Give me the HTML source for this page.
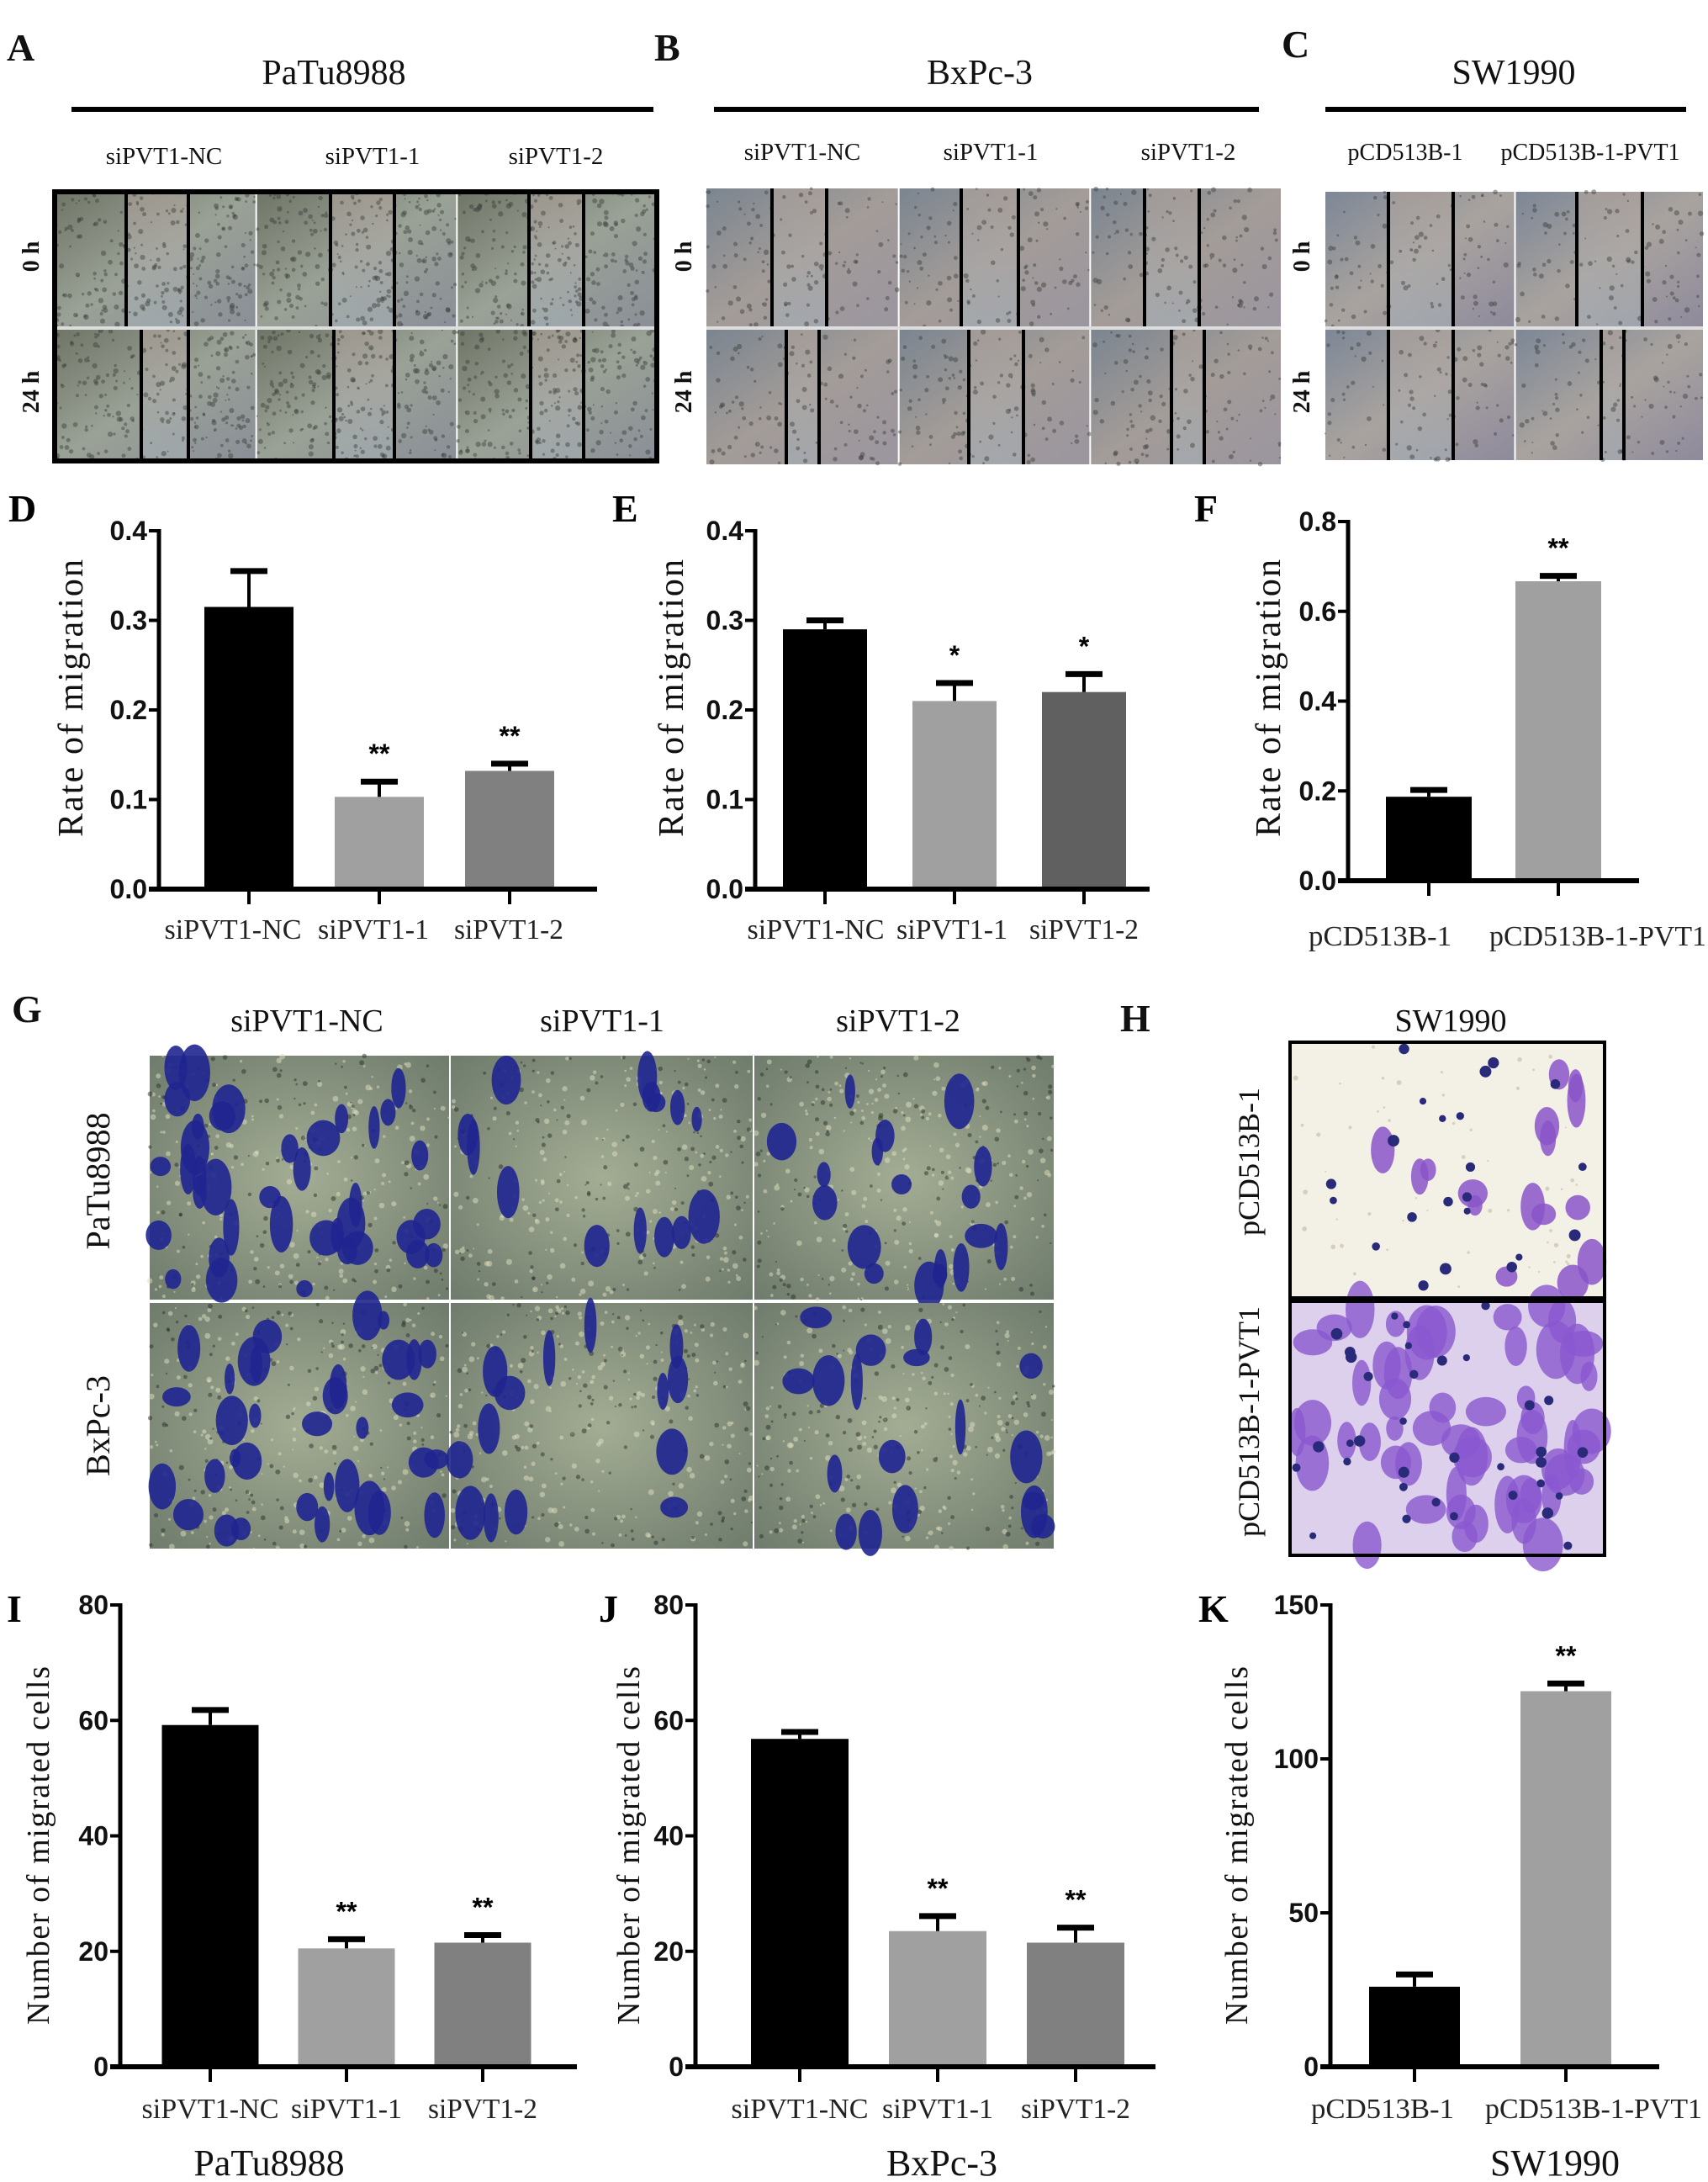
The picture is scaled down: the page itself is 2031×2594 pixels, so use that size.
<!DOCTYPE html>
<html><head><meta charset="utf-8">
<style>
html,body{margin:0;padding:0;background:#fff;}
svg{display:block;}
.serif{font-family:"Liberation Serif",serif;}
.sans{font-family:"Liberation Sans",sans-serif;}
</style></head>
<body>
<svg id="fig" width="2031" height="2594" viewBox="0 0 2031 2594" xmlns="http://www.w3.org/2000/svg">
<defs>
<linearGradient id="scrA" x1="0" y1="0" x2="1" y2="1">
<stop offset="0" stop-color="#6f7566"/><stop offset="0.5" stop-color="#9aa196"/><stop offset="1" stop-color="#8a8f98"/></linearGradient>
<linearGradient id="scrB" x1="0" y1="0" x2="1" y2="1">
<stop offset="0" stop-color="#7b8590"/><stop offset="0.5" stop-color="#a39c98"/><stop offset="1" stop-color="#9b95a0"/></linearGradient>
<linearGradient id="scrC" x1="0" y1="0" x2="1" y2="1">
<stop offset="0" stop-color="#7d8796"/><stop offset="0.5" stop-color="#a9a39f"/><stop offset="1" stop-color="#8e8a9c"/></linearGradient>
<linearGradient id="gapG" x1="0" y1="0" x2="0" y2="1">
<stop offset="0" stop-color="#b3a49c"/><stop offset="1" stop-color="#a7b3ba"/></linearGradient>
<radialGradient id="trG" cx="0.5" cy="0.5" r="0.7">
<stop offset="0" stop-color="#a3ad94"/><stop offset="1" stop-color="#6f7b6c"/></radialGradient>
</defs>
<g id="panels" class="serif"></g>
<g id="charts"></g>
</svg>
<script>
// ---------- chart data ----------
const catsSi = ["siPVT1-NC","siPVT1-1","siPVT1-2"];
const catsPc = ["pCD513B-1","pCD513B-1-PVT1"];
const dValues = [0.315,0.103,0.132];
const dErrors = [0.040,0.017,0.008];
const dStars = ["","**","**"];
const eValues = [0.290,0.210,0.220];
const eErrors = [0.010,0.020,0.020];
const eStars = ["","*","*"];
const fValues = [0.187,0.667];
const fErrors = [0.015,0.012];
const fStars = ["","**"];
const iValues = [59.2,20.5,21.5];
const iErrors = [2.6,1.6,1.3];
const iStars = ["","**","**"];
const jValues = [56.8,23.5,21.5];
const jErrors = [1.2,2.6,2.6];
const jStars = ["","**","**"];
const kValues = [26,122];
const kErrors = [4,2.5];
const kStars = ["","**"];
const ticksRate = [0,0.1,0.2,0.3,0.4];
const tickLabelsRate = ["0.0","0.1","0.2","0.3","0.4"];
const ticksRateF = [0,0.2,0.4,0.6,0.8];
const tickLabelsRateF = ["0.0","0.2","0.4","0.6","0.8"];
const ticksCells = [0,20,40,60,80];
const tickLabelsCells = ["0","20","40","60","80"];
const ticksCellsK = [0,50,100,150];
const tickLabelsCellsK = ["0","50","100","150"];

const NS="http://www.w3.org/2000/svg";
function mk(tag,attrs,parent){const e=document.createElementNS(NS,tag);for(const k in attrs)e.setAttribute(k,attrs[k]);parent.appendChild(e);return e;}
const charts=document.getElementById('charts');

function drawChart(c){
  const g=mk('g',{},charts);
  
  
  const yS=v=>c.y0-(v/c.max)*(c.y0-c.yTop);
  const xS=i=>c.first+i*c.step;
  c.values.forEach((v,i)=>{
    const r=mk('rect',{x:xS(i)-c.bw/2,y:yS(v),width:c.bw,height:c.y0-yS(v),fill:c.colors[i]},g);
    
    
    const top=yS(v+c.errs[i]);
    const eb=mk('g',{},g);
    
    
    mk('line',{x1:xS(i),x2:xS(i),y1:yS(v),y2:top,stroke:'#000','stroke-width':4},eb);
    mk('line',{x1:xS(i)-22,x2:xS(i)+22,y1:top,y2:top,stroke:'#000','stroke-width':7},eb);
    if(c.stars[i]){
      const t=mk('text',{x:xS(i),y:top-22,'text-anchor':'middle','font-size':32,'font-weight':'bold',class:'sans',fill:'#000'},g);
      t.textContent=c.stars[i];
      
      
    }
    const lx=xS(i)+(c.labelOff?c.labelOff[i]:0);
    const la={x:lx,y:c.labelY,'text-anchor':'middle','font-size':34,class:'serif',fill:'#222'};
    if(c.labelLen){la.textLength=c.labelLen[i];la.lengthAdjust='spacingAndGlyphs';}
    const lt=mk('text',la,g);
    lt.textContent=c.cats[i];
    
    
    mk('line',{x1:xS(i),x2:xS(i),y1:c.y0,y2:c.y0+18,stroke:'#000','stroke-width':4},g);
  });
  const ya=mk('line',{x1:c.ax,x2:c.ax,y1:c.yTop-2,y2:c.y0,stroke:'#000','stroke-width':5},g);
  
  
  const xa=mk('line',{x1:c.ax-12,x2:c.axEnd,y1:c.y0,y2:c.y0,stroke:'#000','stroke-width':6},g);
  
  
  c.ticks.forEach((tv,i)=>{
    mk('line',{x1:c.ax-12,x2:c.ax,y1:yS(tv),y2:yS(tv),stroke:'#000','stroke-width':4},g);
    const t=mk('text',{x:c.ax-14,y:yS(tv)+11,'text-anchor':'end','font-size':32,'font-weight':'bold',class:'sans',fill:'#111'},g);
    t.textContent=c.tickLabels[i];
    
    
  });
  const yt=mk('text',{x:0,y:0,'text-anchor':'middle','font-size':c.titleSize,class:'serif',fill:'#111',transform:`translate(${c.titleX},${c.titleY}) rotate(-90)`,textLength:c.titleLen,lengthAdjust:'spacing'},g);
  yt.textContent=c.title;
  
  
  if(c.sub){
    const st=mk('text',{x:c.subX,y:c.subY,'text-anchor':'middle','font-size':44,class:'serif',fill:'#111'},g);
    st.textContent=c.sub;
    
    
  }
  const lt=mk('text',{x:c.letterX,y:c.letterY,'font-size':46,'font-weight':'bold',class:'serif',fill:'#000'},g);
  lt.textContent=c.letter;
  
  
}
const gray1='#a0a0a0';
const siLen=[163,132,130], pcLen=[170,258];
drawChart({id:'d',letter:'D',letterX:10,letterY:620,ax:189,axEnd:710,y0:1057,yTop:631,max:0.4,first:296,step:155,bw:106,values:dValues,errs:dErrors,stars:dStars,cats:catsSi,colors:['#000',gray1,'#808080'],ticks:ticksRate,tickLabels:tickLabelsRate,labelY:1116,labelOff:[-19,-7,-1],labelLen:siLen,title:'Rate of migration',titleX:98,titleY:830,titleLen:330,titleSize:42});
drawChart({id:'e',letter:'E',letterX:728,letterY:620,ax:898,axEnd:1367,y0:1057,yTop:631,max:0.4,first:981,step:154,bw:100,values:eValues,errs:eErrors,stars:eStars,cats:catsSi,colors:['#000',gray1,'#606060'],ticks:ticksRate,tickLabels:tickLabelsRate,labelY:1116,labelOff:[-11,-3,0],labelLen:siLen,title:'Rate of migration',titleX:812,titleY:830,titleLen:330,titleSize:42});
drawChart({id:'f',letter:'F',letterX:1420,letterY:620,ax:1603,axEnd:1949,y0:1047,yTop:620,max:0.8,first:1699,step:154,bw:102,values:fValues,errs:fErrors,stars:fStars,cats:catsPc,colors:['#000',gray1],ticks:ticksRateF,tickLabels:tickLabelsRateF,labelY:1124,labelOff:[-58,47],labelLen:pcLen,title:'Rate of migration',titleX:1522,titleY:830,titleLen:330,titleSize:42});
drawChart({id:'i',letter:'I',letterX:8,letterY:1928,ax:143,axEnd:686,y0:2457,yTop:1908,max:80,first:250,step:162,bw:115,values:iValues,errs:iErrors,stars:iStars,cats:catsSi,colors:['#000',gray1,'#808080'],ticks:ticksCells,tickLabels:tickLabelsCells,labelY:2518,labelLen:siLen,title:'Number of migrated cells',titleX:58,titleY:2194,titleLen:426,titleSize:38,sub:'PaTu8988',subX:320,subY:2586});
drawChart({id:'j',letter:'J',letterX:712,letterY:1928,ax:827,axEnd:1374,y0:2457,yTop:1908,max:80,first:951,step:164,bw:116,values:jValues,errs:jErrors,stars:jStars,cats:catsSi,colors:['#000',gray1,'#808080'],ticks:ticksCells,tickLabels:tickLabelsCells,labelY:2518,labelLen:siLen,title:'Number of migrated cells',titleX:760,titleY:2194,titleLen:426,titleSize:38,sub:'BxPc-3',subX:1120,subY:2586});
drawChart({id:'k',letter:'K',letterX:1425,letterY:1928,ax:1582,axEnd:1973,y0:2457,yTop:1908,max:150,first:1682,step:180,bw:108,values:kValues,errs:kErrors,stars:kStars,cats:catsPc,colors:['#000',gray1],ticks:ticksCellsK,tickLabels:tickLabelsCellsK,labelY:2518,labelOff:[-38,33],labelLen:pcLen,title:'Number of migrated cells',titleX:1483,titleY:2194,titleLen:426,titleSize:38,sub:'SW1990',subX:1849,subY:2586});

// ---------- micrograph panels (decorative) ----------
const P=document.getElementById('panels');
function txt(x,y,s,size,name,opts){const t=mk('text',Object.assign({x:x,y:y,'font-size':size,'text-anchor':'middle',fill:'#111'},opts||{}),P);t.textContent=s;return t;}
let seed=7;function rnd(){seed=(seed*16807)%2147483647;return seed/2147483647;}
function speckle(x,y,w,h,n,color,rmax,op){for(let k=0;k<n;k++){mk('circle',{cx:x+rnd()*w,cy:y+rnd()*h,r:1+rnd()*rmax,fill:color,opacity:op},P);}}
function scratchPanel(x0,x1,y0,y1,ySplit,cols,grad,lines0,lines24,dens){
  const cw=(x1-x0)/cols;
  for(let c=0;c<cols;c++){
    [[y0,ySplit],[ySplit+4,y1]].forEach((r,ri)=>{
      const x=x0+c*cw+(c?2:0),w=cw-(c?2:0);
      mk('rect',{x:x,y:r[0],width:w,height:r[1]-r[0],fill:`url(#${grad})`},P);
      const L=(ri?lines24:lines0)[c];
      mk('rect',{x:L[0],y:r[0],width:L[1]-L[0],height:r[1]-r[0],fill:'url(#gapG)',opacity:0.55},P);
      speckle(x,r[0],w,r[1]-r[0],dens,'#3a3d3a',2.2,0.45);
      L.forEach(lx=>mk('line',{x1:lx,x2:lx,y1:r[0],y2:r[1],stroke:'#000','stroke-width':4},P));
    });
  }
  mk('rect',{x:x0,y:ySplit,width:x1-x0,height:4,fill:'#ddd'},P);
}
txt(15,72,'A',46,'panel-letter-a',{'font-weight':'bold','text-anchor':'start',x:8});
txt(397,100,'PaTu8988',42,'cell-line-title-a');
mk('line',{x1:85,x2:777,y1:130,y2:130,stroke:'#000','stroke-width':6},P);
txt(195,195,'siPVT1-NC',29,'column-label-a1');txt(443,195,'siPVT1-1',29,'column-label-a2');txt(661,195,'siPVT1-2',29,'column-label-a3');
scratchPanel(65,781,228,548,388,3,'scrA',[[150,224],[393,469],[629,694]],[[168,224],[397,469],[631,694]],260);
mk('rect',{x:65,y:228,width:716,height:320,fill:'none',stroke:'#000','stroke-width':6},P);
txt(46,305,'0 h',28,'row-label-a-0h',{transform:'rotate(-90 46 305)','font-weight':'bold'});
txt(46,466,'24 h',28,'row-label-a-24h',{transform:'rotate(-90 46 466)','font-weight':'bold'});
txt(790,72,'B',46,'panel-letter-b',{'font-weight':'bold','text-anchor':'start',x:778});
txt(1165,100,'BxPc-3',42,'cell-line-title-b');
mk('line',{x1:849,x2:1497,y1:130,y2:130,stroke:'#000','stroke-width':6},P);
txt(954,190,'siPVT1-NC',29,'column-label-b1');txt(1178,190,'siPVT1-1',29,'column-label-b2');txt(1413,190,'siPVT1-2',29,'column-label-b3');
scratchPanel(840,1523,224,552,388,3,'scrB',[[918,983],[1143,1211],[1361,1426]],[[935,974],[1152,1217],[1393,1432]],120);
txt(822,305,'0 h',28,'row-label-b-0h',{transform:'rotate(-90 822 305)','font-weight':'bold'});
txt(822,466,'24 h',28,'row-label-b-24h',{transform:'rotate(-90 822 466)','font-weight':'bold'});
txt(1540,68,'C',46,'panel-letter-c',{'font-weight':'bold','text-anchor':'start',x:1524});
txt(1800,100,'SW1990',42,'cell-line-title-c');
mk('line',{x1:1576,x2:2005,y1:130,y2:130,stroke:'#000','stroke-width':6},P);
txt(1671,190,'pCD513B-1',28,'column-label-c1');txt(1891,190,'pCD513B-1-PVT1',28,'column-label-c2');
scratchPanel(1576,2025,228,547,388,2,'scrC',[[1651,1728],[1875,1953]],[[1651,1728],[1904,1931]],100);
txt(1557,305,'0 h',28,'row-label-c-0h',{transform:'rotate(-90 1557 305)','font-weight':'bold'});
txt(1557,466,'24 h',28,'row-label-c-24h',{transform:'rotate(-90 1557 466)','font-weight':'bold'});
txt(20,1215,'G',46,'panel-letter-g',{'font-weight':'bold','text-anchor':'start',x:14});
txt(365,1226,'siPVT1-NC',38,'column-label-g1');txt(716,1226,'siPVT1-1',38,'column-label-g2');txt(1068,1226,'siPVT1-2',38,'column-label-g3');
const gx=[178,536,897],gw=[356,359,356],gy=[[1255,1545],[1549,1841]];
const blobCounts=[[38,14,18],[34,14,18]];
gy.forEach((r,ri)=>gx.forEach((x,ci)=>{
  mk('rect',{x:x,y:r[0],width:gw[ci],height:r[1]-r[0],fill:'url(#trG)'},P);
  speckle(x,r[0],gw[ci],r[1]-r[0],220,'#e0e0c0',2.5,0.5);
  speckle(x,r[0],gw[ci],r[1]-r[0],140,'#2a2f2a',2,0.5);
  for(let k=0;k<blobCounts[ri][ci];k++){mk('ellipse',{cx:x+10+rnd()*(gw[ci]-20),cy:r[0]+10+rnd()*(r[1]-r[0]-20),rx:6+rnd()*14,ry:10+rnd()*24,fill:'#1f2590',opacity:0.9},P);}
}));
txt(130,1404,'PaTu8988',40,'row-label-g-patu8988',{transform:'rotate(-90 130 1404)'});
txt(130,1695,'BxPc-3',40,'row-label-g-bxpc3',{transform:'rotate(-90 130 1695)'});
txt(1348,1226,'H',46,'panel-letter-h',{'font-weight':'bold','text-anchor':'start',x:1332});
txt(1725,1226,'SW1990',38,'cell-line-title-h');
mk('rect',{x:1534,y:1239,width:374,height:304,fill:'#f3f1e6'},P);
mk('rect',{x:1534,y:1547,width:374,height:302,fill:'#ddd0ec'},P);
speckle(1534,1239,374,304,60,'#c4b9a0',2,0.6);
for(let k=0;k<16;k++){mk('ellipse',{cx:1640+rnd()*260,cy:1250+rnd()*280,rx:8+rnd()*12,ry:12+rnd()*20,fill:'#8a55c8',opacity:0.85},P);}
for(let k=0;k<22;k++){mk('circle',{cx:1540+rnd()*360,cy:1245+rnd()*290,r:4+rnd()*3,fill:'#2a2a7a'},P);}
for(let k=0;k<55;k++){mk('ellipse',{cx:1540+rnd()*360,cy:1552+rnd()*290,rx:10+rnd()*14,ry:14+rnd()*22,fill:'#8a58d0',opacity:0.8},P);}
for(let k=0;k<35;k++){mk('circle',{cx:1540+rnd()*360,cy:1552+rnd()*290,r:4+rnd()*3,fill:'#2a2a7a'},P);}
mk('rect',{x:1534,y:1239,width:374,height:304,fill:'none',stroke:'#000','stroke-width':4},P);
mk('rect',{x:1534,y:1547,width:374,height:302,fill:'none',stroke:'#000','stroke-width':4},P);
txt(1497,1381,'pCD513B-1',36,'row-label-h-pcd513b-1',{transform:'rotate(-90 1497 1381)'});
txt(1497,1690,'pCD513B-1-PVT1',36,'row-label-h-pcd513b-1-pvt1',{transform:'rotate(-90 1497 1690)'});
</script>
</body></html>
